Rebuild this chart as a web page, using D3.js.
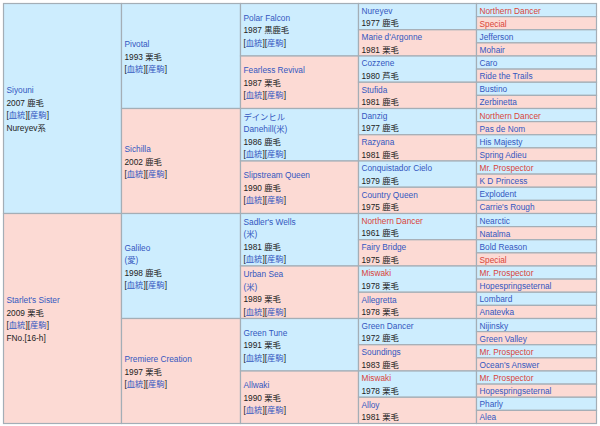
<!DOCTYPE html>
<html><head><meta charset="utf-8">
<script src="https://cdn.jsdelivr.net/npm/d3@7"></script>
<style>
body{margin:0;background:#fff;}
svg{display:block;}
text{font-family:"Liberation Sans",Arial,"Noto Sans CJK JP",sans-serif;font-size:8.3px;}
</style></head>
<body>
<svg id="c" width="600" height="426"></svg>
<script>
// ---- data ----
const gen1Names = ["Siyouni", "Starlet's Sister"];
const gen1Years = ["2007 鹿毛", "2009 栗毛"];
const gen1Extra = ["Nureyev系", "FNo.[16-h]"];

const gen2Names = ["Pivotal", "Sichilla", "Galileo", "Premiere Creation"];
const gen2Origin = ["", "", "(愛)", ""];
const gen2Years = ["1993 栗毛", "2002 鹿毛", "1998 鹿毛", "1997 栗毛"];

const gen3Names = ["Polar Falcon", "Fearless Revival", "デインヒル", "Slipstream Queen",
  "Sadler's Wells", "Urban Sea", "Green Tune", "Allwaki"];
const gen3Sub = ["", "", "Danehill(米)", "", "(米)", "(米)", "", ""];
const gen3Years = ["1987 黒鹿毛", "1987 栗毛", "1986 鹿毛", "1990 鹿毛",
  "1981 鹿毛", "1989 栗毛", "1991 栗毛", "1990 栗毛"];

const gen4Names = ["Nureyev", "Marie d'Argonne", "Cozzene", "Stufida",
  "Danzig", "Razyana", "Conquistador Cielo", "Country Queen",
  "Northern Dancer", "Fairy Bridge", "Miswaki", "Allegretta",
  "Green Dancer", "Soundings", "Miswaki", "Alloy"];
const gen4Years = ["1977 鹿毛", "1981 栗毛", "1980 芦毛", "1981 鹿毛",
  "1977 鹿毛", "1981 鹿毛", "1979 鹿毛", "1975 鹿毛",
  "1961 鹿毛", "1975 鹿毛", "1978 栗毛", "1978 栗毛",
  "1972 鹿毛", "1983 鹿毛", "1978 栗毛", "1981 栗毛"];

const gen5Names = ["Northern Dancer", "Special", "Jefferson", "Mohair",
  "Caro", "Ride the Trails", "Bustino", "Zerbinetta",
  "Northern Dancer", "Pas de Nom", "His Majesty", "Spring Adieu",
  "Mr. Prospector", "K D Princess", "Explodent", "Carrie's Rough",
  "Nearctic", "Natalma", "Bold Reason", "Special",
  "Mr. Prospector", "Hopespringseternal", "Lombard", "Anatevka",
  "Nijinsky", "Green Valley", "Mr. Prospector", "Ocean's Answer",
  "Mr. Prospector", "Hopespringseternal", "Pharly", "Alea"];

const inbred = ["Northern Dancer", "Special", "Mr. Prospector", "Miswaki"];

// ---- styles ----
const BLUE_BG = "#cdedfe", PINK_BG = "#fcdad4", BORDER = "#a4aeb6";
const LINK = "#3357c0", RED = "#d9453a", TXT = "#222";
const LH = 12.5;

const links = [["[", TXT], ["血統", LINK], ["][", TXT], ["産駒", LINK], ["]", TXT]];
const nameSeg = n => [[n, inbred.includes(n) ? RED : LINK]];

// build cells
const cells = [];
const gens = [
  gen1Names.map((n, i) => [nameSeg(n), [[gen1Years[i], TXT]], links, [[gen1Extra[i], TXT]]]),
  gen2Names.map((n, i) => [nameSeg(n)].concat(gen2Origin[i] ? [[[gen2Origin[i], LINK]]] : [],
    [[[gen2Years[i], TXT]], links])),
  gen3Names.map((n, i) => [nameSeg(n)].concat(gen3Sub[i] ? [[[gen3Sub[i], LINK]]] : [],
    [[[gen3Years[i], TXT]], links])),
  gen4Names.map((n, i) => [nameSeg(n), [[gen4Years[i], TXT]]]),
  gen5Names.map(n => [nameSeg(n)])
];
gens.forEach((arr, g) => {
  const span = 32 / arr.length;
  arr.forEach((lines, i) => cells.push({g, r0: i * span, r1: (i + 1) * span, lines, male: i % 2 === 0}));
});

// ---- scales ----
const x = d3.scaleLinear().domain([0, 1, 2, 3, 4, 5]).range([3, 121, 240, 358, 476, 596]);
const y = d3.scaleLinear().domain([0, 32]).range([3, 423]);

const svg = d3.select("#c");
const cg = svg.selectAll("g.cell").data(cells).join("g").attr("class", "cell");
cg.append("rect")
  .attr("x", d => x(d.g) + 0.5).attr("y", d => y(d.r0) + 0.5)
  .attr("width", d => x(d.g + 1) - x(d.g)).attr("height", d => y(d.r1) - y(d.r0))
  .attr("fill", d => d.male ? BLUE_BG : PINK_BG)
  .attr("stroke", BORDER).attr("stroke-width", 1.2);

cg.each(function (d) {
  const g = d3.select(this);
  const cy = (y(d.r0) + y(d.r1)) / 2 + 1;
  const n = d.lines.length;
  d.lines.forEach((segs, k) => {
    const t = g.append("text")
      .attr("x", x(d.g) + 3.5)
      .attr("y", cy - (n - 1) * LH / 2 + k * LH + 3);
    segs.forEach(s => t.append("tspan").attr("fill", s[1]).text(s[0]));
  });
});
</script>
</body></html>
